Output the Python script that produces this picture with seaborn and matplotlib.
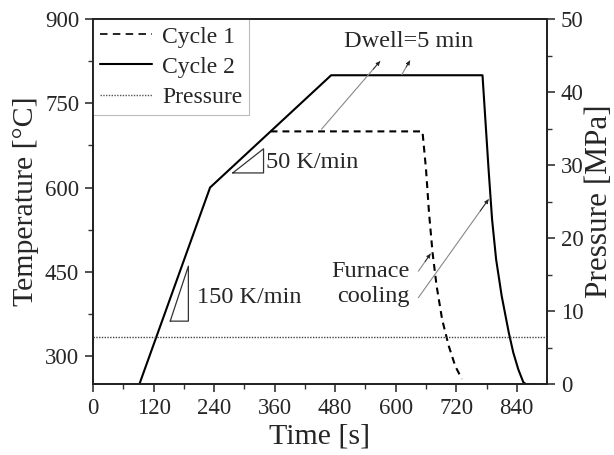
import numpy as np
import pandas as pd
import matplotlib
matplotlib.use("Agg")
import matplotlib.pyplot as plt
import seaborn as sns
from matplotlib.lines import Line2D

sns.set_theme(style="ticks")
plt.rcParams['font.family'] = ['Liberation Serif', 'DejaVu Serif']

# cycle 2 (solid)
c2_time = [92, 232, 472, 772, 784, 791, 799, 810, 824, 833, 843, 853, 858, 875]
c2_temp = [250, 600, 800, 800, 633, 543, 472, 407, 342, 306, 276, 253, 250, 250]

# cycle 1 (dashed)
c1_time = [352, 653, 660, 666, 673, 681, 692, 705, 718, 731]
c1_temp = [700, 700, 633, 555, 484, 425, 365, 318, 282, 259]

# pressure (right axis)
p_time = [0, 900]
p_value = [6.4, 6.4]

df1 = pd.DataFrame({'Time': c1_time, 'Temp': c1_temp})
df2 = pd.DataFrame({'Time': c2_time, 'Temp': c2_temp})
dfp = pd.DataFrame({'Time': p_time, 'P': p_value})

fig = plt.figure(figsize=(6.14, 4.55), dpi=100)
ax = fig.add_axes([0.1515, 0.156, 0.7395, 0.802])
ax2 = ax.twinx()

sns.lineplot(data=df2, x='Time', y='Temp', ax=ax, color='black', lw=1.5,
             sort=False, estimator=None)
sns.lineplot(data=df1, x='Time', y='Temp', ax=ax, color='black', lw=1.5,
             sort=False, estimator=None)
ax.lines[-1].set_dashes([3.3, 2.4])
sns.lineplot(data=dfp, x='Time', y='P', ax=ax2, color='#444444', lw=1.0,
             estimator=None)
ax2.lines[-1].set_linestyle((0, (1, 1)))

ax.set_xlim(0, 900)
ax.set_ylim(250, 900)
ax2.set_ylim(0, 50)

ax.set_xticks([0, 120, 240, 360, 480, 600, 720, 840])
ax.set_xticks(np.arange(60, 900, 120), minor=True)
ax.set_yticks([300, 450, 600, 750, 900])
ax.set_yticks([375, 525, 675, 825], minor=True)
ax2.set_yticks([0, 10, 20, 30, 40, 50])
ax2.set_yticks([5, 15, 25, 35, 45], minor=True)

for a in (ax, ax2):
    a.tick_params(which='major', direction='out', length=6, width=1.2,
                  labelsize=16.5, color='#333333', pad=4)
    a.tick_params(which='minor', direction='out', length=3.5, width=1.0,
                  color='#333333')
    for s in a.spines.values():
        s.set_visible(True)
        s.set_linewidth(1.3)
        s.set_color('#222222')

ax.set_xlabel('Time [s]', fontsize=21.5, labelpad=3)
ax.set_ylabel('Temperature [°C]', fontsize=21.5, labelpad=4)
ax2.set_ylabel('Pressure [MPa]', fontsize=22.5, labelpad=1)

# slope triangles
ax.plot([153, 189, 189, 153], [362, 362, 460, 362], color='#333333', lw=0.9)
ax.plot([277, 338, 338, 277], [626, 626, 669, 626], color='#333333', lw=0.9)
ax.text(207, 404, '150 K/min', fontsize=17.5, va='center', ha='left')
ax.text(343, 645, '50 K/min', fontsize=17.5, va='center', ha='left')

ax.text(626, 860, 'Dwell=5 min', fontsize=17.5, va='center', ha='center')
ax.text(627, 428, 'Furnace\ncooling', fontsize=17.5, va='center', ha='right',
        linespacing=1.3)

# pointer arrows: grey shaft, small dark head
arrows = [((453, 704), (569, 825)), ((612, 801), (628, 826)),
          ((645, 451), (669, 482)), ((645, 404), (784, 579))]
for (x0, y0), (x1, y1) in arrows:
    ax.annotate('', xy=(x1, y1), xytext=(x0, y0),
                arrowprops=dict(arrowstyle='-', color='#888888', lw=0.8,
                                shrinkA=0, shrinkB=0))
    frac = 0.45 if abs(x1 - x0) < 30 else 0.12
    hx = x1 - (x1 - x0) * frac
    hy = y1 - (y1 - y0) * frac
    ax.annotate('', xy=(x1, y1), xytext=(hx, hy),
                arrowprops=dict(arrowstyle='-|>', color='#222222', lw=0.6,
                                mutation_scale=6, shrinkA=0, shrinkB=0))

handles = [
    Line2D([], [], color='black', lw=1.2, dashes=[4.5, 3.2]),
    Line2D([], [], color='black', lw=1.5),
    Line2D([], [], color='#555555', lw=1.0, linestyle=(0, (1, 1))),
]
leg = ax.legend(handles, ['Cycle 1', 'Cycle 2', 'Pressure'], loc='upper left',
                fontsize=17, frameon=True, fancybox=False, borderpad=0.3,
                labelspacing=0.36, handlelength=2.2, handletextpad=0.42,
                borderaxespad=0.0)
leg.get_frame().set_edgecolor('#aaaaaa')
leg.get_frame().set_linewidth(0.8)

fig.savefig('out.png', dpi=100)
